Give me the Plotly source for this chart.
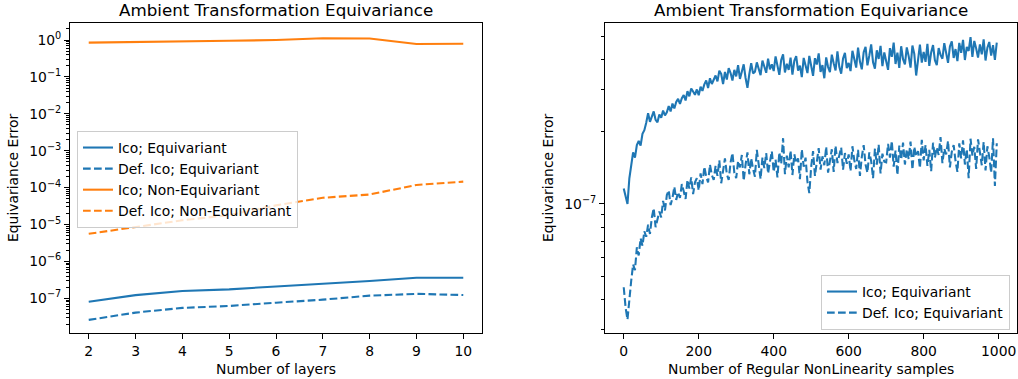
import plotly.graph_objects as go

# ---------------- data: left panel ----------------
layers = [2, 3, 4, 5, 6, 7, 8, 9, 10]
ico_eq = [8.1e-8, 1.22e-7, 1.58e-7, 1.75e-7, 2.1e-7, 2.45e-7, 2.95e-7, 3.6e-7, 3.6e-7]
def_ico_eq = [2.6e-8, 4.1e-8, 5.5e-8, 6.2e-8, 7.6e-8, 9.2e-8, 1.18e-7, 1.32e-7, 1.23e-7]
ico_noneq = [0.85, 0.87, 0.91, 0.95, 1.0, 1.12, 1.1, 0.78, 0.79]
def_ico_noneq = [5.6e-6, 8.7e-6, 1.3e-5, 1.8e-5, 3.3e-5, 5.3e-5, 6.5e-5, 1.18e-4, 1.45e-4]

left_ytick_vals = [1e-7, 1e-6, 1e-5, 1e-4, 1e-3, 1e-2, 1e-1, 1e0]
left_ytick_text = ["10<sup>−7</sup>", "10<sup>−6</sup>", "10<sup>−5</sup>", "10<sup>−4</sup>",
                   "10<sup>−3</sup>", "10<sup>−2</sup>", "10<sup>−1</sup>", "10<sup>0</sup>"]

# ---------------- data: right panel (values in units of 1e-8) ----------------
samples = list(range(0, 1000, 5))
ico_eq_samples = [
    11.6, 10.9, 10.0, 12.8, 14.2, 16.4, 15.6, 17.6, 18.3, 17.5,
    19.6, 20.3, 21.8, 23.9, 22.0, 23.2, 24.3, 22.4, 21.9, 23.6,
    22.9, 24.5, 23.4, 24.1, 25.6, 24.3, 26.2, 25.0, 26.6, 27.4,
    26.1, 27.6, 28.4, 27.0, 29.5, 28.1, 30.3, 29.4, 28.5, 30.0,
    28.4, 30.8, 29.6, 31.5, 32.7, 30.4, 33.4, 31.6, 32.8, 34.3,
    32.4, 35.9, 34.8, 31.6, 35.5, 33.0, 36.8, 35.1, 32.7, 36.2,
    34.0, 37.9, 33.2, 35.8, 38.2, 33.5, 30.5, 34.8, 38.6, 35.0,
    35.6, 38.9, 36.0, 34.4, 39.6, 37.0, 35.2, 40.3, 36.4, 38.2,
    35.8, 41.2, 37.1, 34.5, 39.8, 42.0, 35.3, 38.4, 36.2, 40.7,
    34.6, 39.5, 41.3, 35.9, 37.7, 33.8, 40.6, 38.2, 35.1, 41.4,
    36.8, 34.2, 40.5, 38.1, 42.4, 35.5, 37.9, 33.4, 40.8, 37.2,
    35.4, 41.9, 38.6, 36.0, 43.2, 37.3, 34.9, 40.4, 42.6, 36.8,
    38.7, 35.8, 43.5, 40.1, 37.0, 44.8, 39.2, 36.4, 42.9, 45.1,
    37.8, 41.5, 46.2, 38.9, 36.6, 43.7, 40.2, 45.6, 37.5, 42.8,
    39.5, 36.2, 44.6, 41.0, 47.0, 38.3, 42.7, 36.9, 45.4, 40.1,
    38.2, 44.9, 41.3, 37.0, 45.7, 42.2, 34.3, 40.6, 46.1, 38.8,
    43.0, 39.1, 46.5, 37.6, 42.8, 45.9, 39.7, 37.9, 44.6, 41.8,
    40.3, 46.8, 42.1, 38.7, 45.3, 47.6, 40.6, 44.2, 39.4, 46.9,
    42.6, 48.3, 39.8, 45.1, 43.4, 49.6, 41.0, 47.8, 44.5, 40.7,
    46.2, 42.0, 48.5, 39.6, 44.8, 47.3, 41.5, 45.9, 39.8, 47.0,
]
def_ico_eq_samples = [
    4.5, 3.7, 3.3, 4.1, 4.8, 5.6, 5.3, 6.6, 6.1, 7.2,
    6.7, 7.7, 7.3, 8.2, 7.5, 8.8, 9.6, 8.0, 8.7, 9.3,
    8.8, 10.3, 9.4, 10.9, 11.4, 9.9, 10.6, 11.8, 10.4, 11.2,
    10.6, 12.1, 11.3, 10.5, 12.6, 11.6, 12.9, 11.0, 12.3, 12.8,
    11.4, 13.4, 12.1, 14.3, 13.0, 12.3, 14.6, 13.2, 12.6, 14.4,
    13.1, 15.2, 12.2, 14.0, 15.5, 13.3, 12.6, 14.9, 16.3, 13.5,
    12.8, 15.1, 14.2, 16.0, 12.5, 14.6, 16.4, 13.3, 15.5, 14.0,
    13.0, 16.8, 14.4, 12.7, 15.6, 14.1, 16.3, 13.4, 15.0, 16.6,
    13.6, 15.3, 12.9, 16.4, 14.7, 18.8, 13.3, 15.9, 14.2, 16.7,
    13.2, 16.1, 14.8, 15.5, 12.7, 16.9, 14.3, 15.6, 12.4, 11.1,
    14.3, 16.6, 13.1, 15.4, 17.1, 13.9, 15.8, 14.5, 17.3, 13.5,
    15.0, 16.9, 13.6, 17.5, 14.8, 15.9, 17.2, 13.9, 16.3, 14.7,
    16.1, 13.7, 17.4, 15.2, 14.0, 16.8, 13.1, 15.7, 17.6, 14.6,
    13.5, 16.4, 15.1, 12.8, 17.0, 14.6, 17.7, 13.4, 16.2, 15.0,
    14.9, 17.8, 15.6, 18.3, 14.3, 16.7, 13.2, 17.5, 15.3, 18.0,
    14.6, 16.9, 15.4, 18.2, 13.9, 17.3, 15.8, 16.6, 14.1, 18.5,
    15.2, 17.6, 14.4, 16.8, 13.7, 18.0, 15.6, 17.2, 16.0, 19.0,
    14.8, 17.0, 16.1, 18.3, 14.2, 16.5, 17.6, 15.1, 13.6, 17.9,
    15.5, 18.4, 14.6, 16.9, 12.8, 18.7, 15.9, 17.3, 14.0, 18.6,
    16.2, 14.5, 18.1, 13.8, 17.4, 15.7, 13.5, 18.8, 11.9, 17.9,
]
unit = 1e-8
right_xtick_vals = [0, 200, 400, 600, 800, 1000]

# ---------------- styling ----------------
BLUE = "#1f77b4"
ORANGE = "#ff7f0e"
LW = 2.08
DASH = "7.7px,3.3px"
FONT = "DejaVu Sans"
W, H = 1018, 379

fig = go.Figure()

# left panel traces
fig.add_trace(go.Scatter(x=layers, y=ico_eq, mode="lines", name="Ico; Equivariant",
                         line=dict(color=BLUE, width=LW), xaxis="x", yaxis="y", legend="legend"))
fig.add_trace(go.Scatter(x=layers, y=def_ico_eq, mode="lines", name="Def. Ico; Equivariant",
                         line=dict(color=BLUE, width=LW, dash=DASH), xaxis="x", yaxis="y", legend="legend"))
fig.add_trace(go.Scatter(x=layers, y=ico_noneq, mode="lines", name="Ico; Non-Equivariant",
                         line=dict(color=ORANGE, width=LW), xaxis="x", yaxis="y", legend="legend"))
fig.add_trace(go.Scatter(x=layers, y=def_ico_noneq, mode="lines", name="Def. Ico; Non-Equivariant",
                         line=dict(color=ORANGE, width=LW, dash=DASH), xaxis="x", yaxis="y", legend="legend"))

# right panel traces
fig.add_trace(go.Scatter(x=samples, y=[v * unit for v in ico_eq_samples], mode="lines",
                         name="Ico; Equivariant", line=dict(color=BLUE, width=LW),
                         xaxis="x2", yaxis="y2", legend="legend2"))
fig.add_trace(go.Scatter(x=samples, y=[v * unit for v in def_ico_eq_samples], mode="lines",
                         name="Def. Ico; Equivariant", line=dict(color=BLUE, width=LW, dash=DASH),
                         xaxis="x2", yaxis="y2", legend="legend2"))

# axes geometry (pixels)
L1, R1 = 70, 482
L2, R2 = 605, 1017
TOP, BOT = 23, 333

def px(xp):
    return xp / W

def py(yp):
    return 1 - yp / H

left_minor = [m * 10.0 ** e for e in range(-8, 1) for m in range(2, 10)]
right_minor = [m * 10.0 ** e for e in (-8, -7) for m in range(2, 10)]

axis_common = dict(showline=True, linecolor="black", linewidth=1.1, mirror=True,
                   ticks="outside", ticklen=4.9, tickwidth=1.1, tickcolor="black",
                   showgrid=False, zeroline=False,
                   tickfont=dict(family=FONT, size=13.9, color="black"))

fig.update_layout(
    width=W, height=H,
    margin=dict(l=0, r=0, t=0, b=0),
    paper_bgcolor="white", plot_bgcolor="white",
    font=dict(family=FONT, size=13.9, color="black"),
    xaxis=dict(domain=[px(L1), px(R1)], range=[1.6, 10.4], anchor="y",
               tickvals=layers, **axis_common),
    yaxis=dict(domain=[py(BOT), py(TOP)], type="log", range=[-7.94, 0.4607], anchor="x",
               tickvals=left_ytick_vals, ticktext=left_ytick_text,
               minor=dict(ticks="outside", ticklen=2.8, tickwidth=0.83, tickcolor="black",
                          tickvals=left_minor, showgrid=False),
               **axis_common),
    xaxis2=dict(domain=[px(L2), px(R2)], range=[-49.95, 1048.95], anchor="y2",
                tickvals=right_xtick_vals, **axis_common),
    yaxis2=dict(domain=[py(BOT), py(TOP)], type="log", range=[-7.5375, -6.246], anchor="x2",
                tickvals=[1e-7], ticktext=["10<sup>−7</sup>"],
                minor=dict(ticks="outside", ticklen=2.8, tickwidth=0.83, tickcolor="black",
                           tickvals=right_minor, showgrid=False),
                **axis_common),
    legend=dict(x=px(77), y=py(131), xanchor="left", yanchor="top",
                bgcolor="rgba(255,255,255,0.8)", bordercolor="#cccccc", borderwidth=1,
                font=dict(family=FONT, size=13.9, color="black"), tracegroupgap=0),
    legend2=dict(x=px(1010), y=py(330), xanchor="right", yanchor="bottom",
                 bgcolor="rgba(255,255,255,0.8)", bordercolor="#cccccc", borderwidth=1,
                 font=dict(family=FONT, size=13.9, color="black"), tracegroupgap=0),
    showlegend=True,
)

title_text = "Ambient Transformation Equivariance"
annotations = [
    dict(text=title_text, x=px((L1 + R1) / 2), y=py(10), font=dict(size=16.7)),
    dict(text=title_text, x=px((L2 + R2) / 2), y=py(10), font=dict(size=16.7)),
    dict(text="Number of layers", x=px((L1 + R1) / 2), y=py(368.5)),
    dict(text="Number of Regular NonLinearity samples", x=px((L2 + R2) / 2), y=py(368.5)),
    dict(text="Equivariance Error", x=px(13), y=py((TOP + BOT) / 2), textangle=-90),
    dict(text="Equivariance Error", x=px(548), y=py((TOP + BOT) / 2), textangle=-90),
]
for a in annotations:
    a.update(xref="paper", yref="paper", showarrow=False, xanchor="center", yanchor="middle")
fig.update_layout(annotations=annotations)

fig.write_html("out.html")
